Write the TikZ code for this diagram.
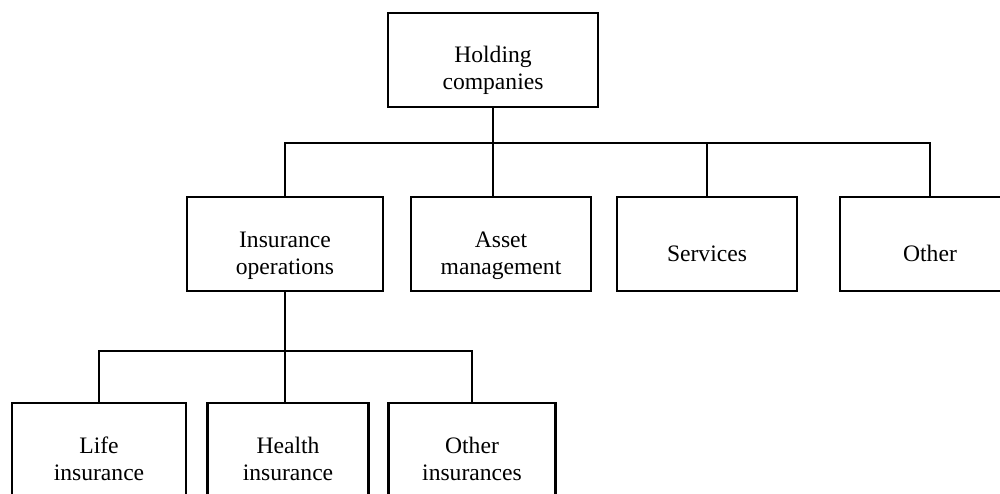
\documentclass[tikz,border=0pt]{standalone}
\usepackage{fontspec}
\setmainfont{Liberation Serif}

\begin{document}
\begin{tikzpicture}[x=0.5pt,y=0.5pt,
        unit/.style={draw,line width=1.3pt,inner sep=0pt,align=center,
            minimum height=47pt,font=\fontsize{11.8}{13.5}\selectfont,
            text height=33pt,text depth=3pt},
        unit one/.style={unit,text height=21pt},
        link/.style={line width=0.85pt}]
        \useasboundingbox (0,0) rectangle (1000,493);

        \node[unit,minimum width=105pt] (hold) at (493,433) {Holding\\companies};

        \node[unit,minimum width=98pt] (ins) at (285,249) {Insurance\\operations};
        \node[unit,minimum width=90pt] (asset) at (501,249) {Asset\\management};
        \node[unit one,minimum width=90pt] (serv) at (707,249) {Services};
        \node[unit one,minimum width=90pt] (oth) at (930,249) {Other};

        \node[unit,minimum width=87pt] (life) at (99,43) {Life\\insurance};
        \node[unit,minimum width=80.5pt] (health) at (288,43) {Health\\insurance};
        \node[unit,minimum width=83.5pt] (othins) at (472,43) {Other\\insurances};

        \coordinate (bus) at (0,350);
        \coordinate (lowbus) at (0,142);

        \draw[link] (hold.south) -- (hold.south |- asset.north);
        \draw[link] (ins.north) |- (oth.north |- bus) -- (oth.north);
        \draw[link] (serv.north) -- (serv.north |- bus);

        \draw[link] (ins.south) -- (ins.south |- health.north);
        \draw[link] (life.north) |- (othins.north |- lowbus) -- (othins.north);
    \end{tikzpicture}
\end{document}
